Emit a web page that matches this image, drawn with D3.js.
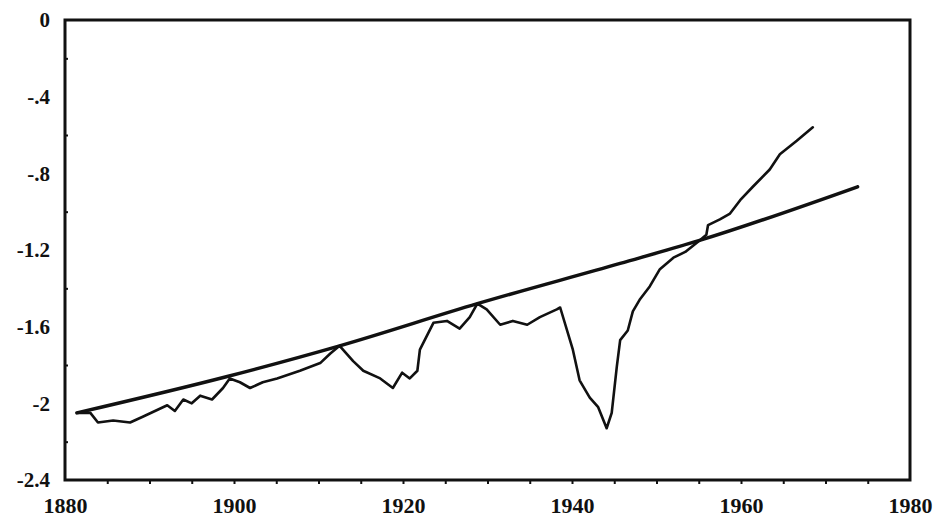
<!DOCTYPE html>
<html>
<head>
<meta charset="utf-8">
<script src="https://cdn.jsdelivr.net/npm/d3@7"></script>
<style>
  body { margin: 0; background: #fff; }
  svg text { font-family: "Liberation Serif", "DejaVu Serif", serif; font-weight: bold; }
</style>
</head>
<body>
<div id="chart"></div>
<script>
// series
const years = [1881.5, 1883.0, 1883.9, 1885.7, 1887.7, 1889.2, 1892.1, 1893.0, 1894.0, 1895.0,
  1896.0, 1897.4, 1898.7, 1899.5, 1900.7, 1901.9, 1903.4, 1905.1, 1907.8, 1910.2,
  1911.4, 1912.5, 1914.1, 1915.3, 1917.3, 1918.8, 1919.9, 1920.8, 1921.7, 1922.0,
  1923.6, 1925.2, 1926.7, 1927.9, 1928.8, 1929.9, 1931.5, 1933.0, 1934.7, 1936.2,
  1938.2, 1938.6, 1940.1, 1940.9, 1942.1, 1943.1, 1944.1, 1944.7, 1945.3, 1945.7,
  1946.6, 1947.2, 1948.0, 1949.2, 1950.4, 1952.0, 1953.4, 1955.1, 1955.9, 1956.1,
  1957.5, 1958.7, 1959.9, 1961.4, 1963.4, 1964.6, 1966.6, 1968.5];
const values = [-2.05, -2.05, -2.10, -2.09, -2.10, -2.07, -2.01, -2.04, -1.98, -2.00,
  -1.96, -1.98, -1.92, -1.87, -1.89, -1.92, -1.89, -1.87, -1.83, -1.79,
  -1.74, -1.70, -1.78, -1.83, -1.87, -1.92, -1.84, -1.87, -1.83, -1.72,
  -1.58, -1.57, -1.61, -1.55, -1.48, -1.51, -1.59, -1.57, -1.59, -1.55,
  -1.51, -1.50, -1.72, -1.88, -1.97, -2.02, -2.13, -2.05, -1.81, -1.67,
  -1.62, -1.52, -1.46, -1.39, -1.30, -1.24, -1.21, -1.15, -1.12, -1.07,
  -1.04, -1.01, -0.94, -0.87, -0.78, -0.70, -0.63, -0.56];

// fitted trend, points read along it
const trendYears = [1881.4, 1899.2, 1912.5, 1928.8, 1945.7, 1955.1, 1973.8];
const trendValues = [-2.05, -1.86, -1.70, -1.48, -1.27, -1.15, -0.87];

const xTicks = [1880, 1900, 1920, 1940, 1960, 1980];
const yTicks = [0, -0.4, -0.8, -1.2, -1.6, -2, -2.4];
const yTickLabels = ["0", "-.4", "-.8", "-1.2", "-1.6", "-2", "-2.4"];

const W = 934, H = 528;
const margin = { top: 20, right: 24, bottom: 48, left: 65 };
const x0 = margin.left, x1 = W - margin.right,
      y0 = margin.top, y1 = H - margin.bottom;

const svg = d3.select("#chart").append("svg")
    .attr("width", W)
    .attr("height", H);

const x = d3.scaleLinear().domain([1880, 1980]).range([x0, x1]);
const y = d3.scaleLinear().domain([-2.4, 0]).range([y1, y0]);

// minor ticks
svg.append("g")
    .attr("transform", `translate(0,${y1})`)
    .call(d3.axisBottom(x).tickValues(d3.range(1885, 1980, 5)).tickSize(4).tickFormat(""))
    .call(g => g.select(".domain").remove())
    .selectAll("line").attr("stroke", "#111").attr("stroke-width", 2);

svg.append("g")
    .attr("transform", `translate(${x0},0)`)
    .call(d3.axisRight(y).tickValues([-0.2, -0.6, -1, -1.4, -1.8, -2.2]).tickSize(3).tickFormat(""))
    .call(g => g.select(".domain").remove())
    .selectAll("line").attr("stroke", "#111").attr("stroke-width", 2);

// x axis
svg.append("g")
    .attr("transform", `translate(0,${y1})`)
    .call(d3.axisBottom(x).tickValues(xTicks).tickSize(0).tickPadding(17).tickFormat(d3.format("d")))
    .call(g => g.select(".domain").remove())
    .selectAll("text")
    .attr("fill", "#111")
    .style("font-size", "22px");

// y axis
svg.append("g")
    .attr("transform", `translate(${x0},0)`)
    .call(d3.axisLeft(y).tickValues(yTicks).tickSize(0).tickPadding(15)
        .tickFormat((d, i) => yTickLabels[i]))
    .call(g => g.select(".domain").remove())
    .selectAll("text")
    .attr("fill", "#111")
    .style("font-size", "21px");

// frame
svg.append("rect")
    .attr("x", x0)
    .attr("y", y0)
    .attr("width", x1 - x0)
    .attr("height", y1 - y0)
    .attr("fill", "none")
    .attr("stroke", "#111")
    .attr("stroke-width", 3);

const line = d3.line()
    .x(d => x(d[0]))
    .y(d => y(d[1]));

svg.append("path")
    .datum(trendYears.map((t, i) => [t, trendValues[i]]))
    .attr("d", line.curve(d3.curveMonotoneX))
    .attr("fill", "none")
    .attr("stroke", "#111")
    .attr("stroke-width", 3.5)
    .attr("stroke-linecap", "round");

svg.append("path")
    .datum(years.map((t, i) => [t, values[i]]))
    .attr("d", line.curve(d3.curveLinear))
    .attr("fill", "none")
    .attr("stroke", "#111")
    .attr("stroke-width", 2.6)
    .attr("stroke-linejoin", "round")
    .attr("stroke-linecap", "round");
</script>
</body>
</html>
